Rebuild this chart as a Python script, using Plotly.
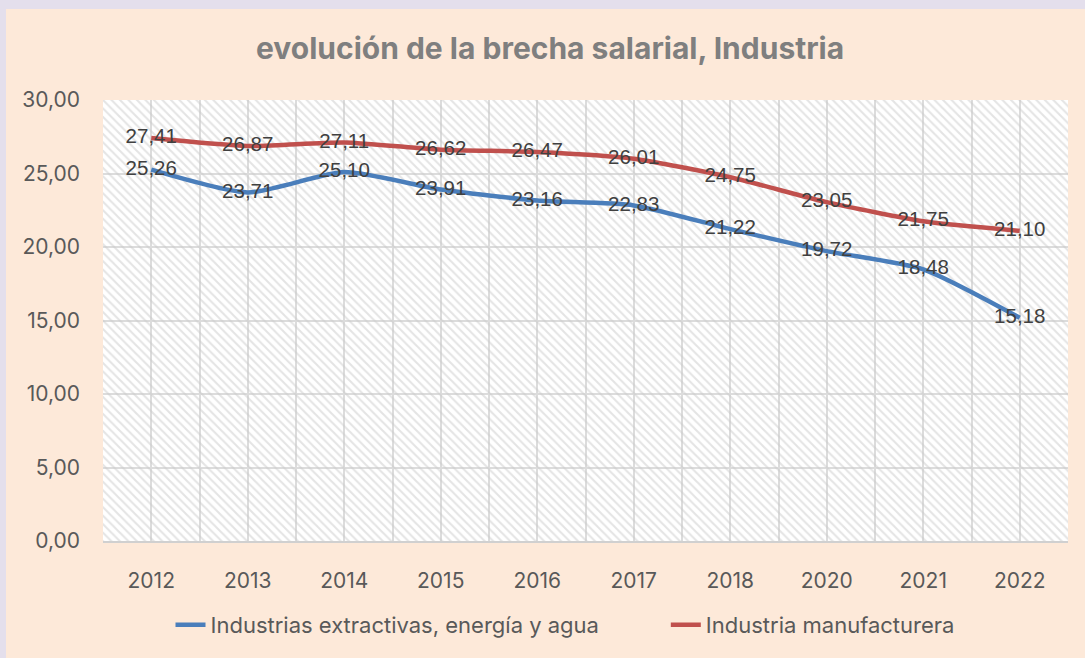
import plotly.graph_objects as go

years = ["2012", "2013", "2014", "2015", "2016", "2017", "2018", "2020", "2021", "2022"]
extractivas = [25.26, 23.71, 25.10, 23.91, 23.16, 22.83, 21.22, 19.72, 18.48, 15.18]
manufacturera = [27.41, 26.87, 27.11, 26.62, 26.47, 26.01, 24.75, 23.05, 21.75, 21.10]
series_names = ["Industrias extractivas, energía y agua", "Industria manufacturera"]
y_ticks = [0, 5, 10, 15, 20, 25, 30]

W, H = 1085, 658
ML, MR, MT, MB = 103, 17, 100, 117
pw, ph = W - ML - MR, H - MT - MB

xs = list(range(len(years)))
lo, hi = -0.5, len(years) - 0.5
ymax = max(y_ticks)

def fmt(v):
    return f"{v:.2f}".replace(".", ",")

fig = go.Figure()

# hatched plot background (transparent between hatch lines so gridlines show)
fig.add_trace(go.Scatter(
    x=[lo, hi, hi, lo, lo], y=[0, 0, ymax, ymax, 0],
    fill="toself", mode="none", fillcolor="rgba(0,0,0,0)",
    fillpattern=dict(shape="\\", fgcolor="#cacaca", bgcolor="rgba(0,0,0,0)", size=6, solidity=0.35),
    hoverinfo="skip", showlegend=False,
))

label_font = dict(family="Liberation Sans, Arial", size=20.5, color="#404040")
legend_names = [series_names[0] + "\u00a0" * 10, series_names[1]]
for name, vals, col in [(legend_names[0], extractivas, "#4A7EBB"),
                        (legend_names[1], manufacturera, "#C0504D")]:
    fig.add_trace(go.Scatter(
        x=xs, y=vals, name=name, mode="lines",
        line=dict(color=col, width=4.5, shape="spline", smoothing=0.6),
    ))
for vals in [extractivas, manufacturera]:
    fig.add_trace(go.Scatter(
        x=xs, y=vals, mode="text", text=[fmt(v) for v in vals],
        textposition="middle center", textfont=label_font,
        showlegend=False, hoverinfo="skip",
    ))

# lavender frame strips (left and top)
lav = "#E4DFEC"
fig.add_shape(type="rect", xref="paper", yref="paper",
              x0=-ML / pw, x1=(6 - ML) / pw, y0=-MB / ph, y1=(ph + MT) / ph,
              fillcolor=lav, line=dict(width=0), layer="below")
fig.add_shape(type="rect", xref="paper", yref="paper",
              x0=-ML / pw, x1=(W - ML) / pw, y0=(ph + MT - 9) / ph, y1=(ph + MT) / ph,
              fillcolor=lav, line=dict(width=0), layer="below")

tick_font = dict(family="Inter, Open Sans", size=21, color="#595959")
grid = "#DCDCDC"
fig.update_layout(
    width=W, height=H,
    margin=dict(l=ML, r=MR, t=MT, b=MB),
    paper_bgcolor="#FDE9D9", plot_bgcolor="white",
    separators=",.",
    title=dict(text="<b>evolución de la brecha salarial, Industria</b>",
               x=0.507, xref="container", y=1 - 48 / H, yref="container",
               xanchor="center", yanchor="middle",
               font=dict(family="Inter, Open Sans", size=30, color="#7F7F7F")),
    xaxis=dict(range=[lo, hi], tickvals=xs, ticktext=years, tickfont=tick_font,
               showgrid=True, gridcolor=grid, gridwidth=1.5,
               minor=dict(showgrid=True, tick0=-0.5, dtick=1, gridcolor=grid, gridwidth=1.5),
               showline=True, linecolor="#D0D0D0", linewidth=2, automargin=False,
               ticks="", ticklabelstandoff=20, zeroline=False, fixedrange=True),
    yaxis=dict(range=[0, ymax], tickvals=y_ticks, ticktext=[fmt(v) for v in y_ticks],
               tickfont=tick_font, showgrid=True, gridcolor=grid, gridwidth=1.5,
               automargin=False, zeroline=False, ticks="", ticklabelstandoff=22,
               fixedrange=True),
    legend=dict(orientation="h", x=(565 - ML) / pw, xanchor="center",
                y=-(625 - (MT + ph)) / ph, yanchor="middle",
                font=dict(family="Inter, Open Sans", size=22, color="#595959"),
                bgcolor="rgba(0,0,0,0)"),
    showlegend=True,
)

fig.write_html(
    "out.html",
    config={"displayModeBar": False},
    post_script="document.body.style.margin='0';document.body.style.background='#E4DFEC';",
)
